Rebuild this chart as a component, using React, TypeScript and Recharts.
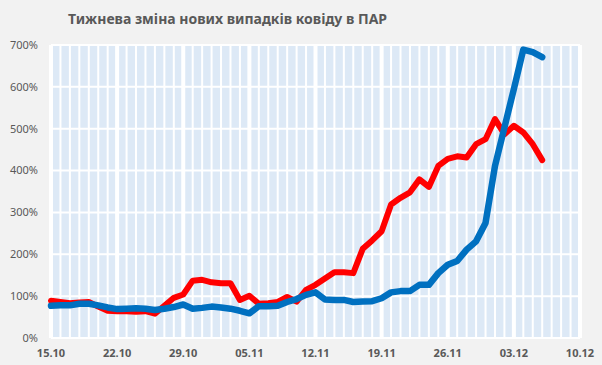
import {
  LineChart,
  Line,
  XAxis,
  YAxis,
  CartesianGrid,
  ReferenceLine,
} from 'recharts'

const dates = [
  '15.10', '16.10', '17.10', '18.10', '19.10', '20.10', '21.10',
  '22.10', '23.10', '24.10', '25.10', '26.10', '27.10', '28.10',
  '29.10', '30.10', '31.10', '01.11', '02.11', '03.11', '04.11',
  '05.11', '06.11', '07.11', '08.11', '09.11', '10.11', '11.11',
  '12.11', '13.11', '14.11', '15.11', '16.11', '17.11', '18.11',
  '19.11', '20.11', '21.11', '22.11', '23.11', '24.11', '25.11',
  '26.11', '27.11', '28.11', '29.11', '30.11', '01.12', '02.12',
  '03.12', '04.12', '05.12', '06.12', '07.12', '08.12', '09.12',
  '10.12',
]

// weekly change, %
const redSeries = [
  89, 86, 83, 85, 86, 75, 65, 64, 64, 63, 64, 58, 77, 96, 104,
  137, 139, 133, 131, 131, 91, 101, 82, 83, 86, 98, 87, 115, 127,
  142, 157, 157, 155, 213, 233, 255, 319, 335, 348, 379, 361, 411,
  428, 434, 431, 463, 475, 523, 487, 507, 491, 463, 425,
]

const blueSeries = [
  77, 78, 78, 82, 82, 78, 73, 69, 70, 71, 70, 67, 70, 74, 80,
  70, 72, 75, 73, 70, 65, 59, 76, 76, 77, 86, 93, 103, 109,
  92, 91, 91, 86, 87, 88, 95, 109, 112, 112, 127, 127, 155,
  175, 184, 211, 231, 275, 411, 503, 595, 689, 683, 671,
]

const yTicks = [0, 100, 200, 300, 400, 500, 600, 700]

const chartData = dates.map((date, i) => ({
  date,
  red: redSeries[i] ?? null,
  blue: blueSeries[i] ?? null,
}))

const textColor = '#595959'
const font = '"Noto Sans", sans-serif'

export default function App() {
  return (
    <div
      style={{
        position: 'absolute',
        left: 0,
        top: 0,
        width: 602,
        height: 365,
        background: '#f2f2f2',
        fontFamily: font,
      }}
    >
      <div
        style={{
          position: 'absolute',
          left: 68,
          top: 9,
          fontSize: 14,
          fontWeight: 700,
          color: textColor,
          whiteSpace: 'nowrap',
        }}
      >
        Тижнева зміна нових випадків ковіду в ПАР
      </div>
      <LineChart
        width={602}
        height={365}
        data={chartData}
        margin={{ top: 45, right: 22, left: 0, bottom: 0 }}
      >
        <CartesianGrid
          vertical={false}
          stroke="#ffffff"
          strokeWidth={2}
          fill="#dde9f6"
          fillOpacity={1}
        />
        {dates.map((d, i) => (
          <ReferenceLine
            key={d}
            x={d}
            stroke="#ffffff"
            strokeWidth={i % 7 === 0 ? 4 : 2}
          />
        ))}
        <ReferenceLine y={0} stroke="#ffffff" strokeWidth={2} />
        <ReferenceLine y={700} stroke="#ffffff" strokeWidth={2} />
        <XAxis
          dataKey="date"
          interval={6}
          height={27}
          axisLine={false}
          tickLine={false}
          tickSize={6}
          tickMargin={5}
          tick={{ fill: textColor, fontSize: 11, fontWeight: 700, fontFamily: font }}
        />
        <YAxis
          domain={[0, 700]}
          ticks={yTicks}
          tickFormatter={(v) => `${v}%`}
          axisLine={false}
          tickLine={false}
          tickSize={6}
          tickMargin={7}
          width={51}
          tick={{ fill: textColor, fontSize: 11, fontFamily: font }}
        />
        <Line
          dataKey="red"
          stroke="#ff0000"
          strokeWidth={6}
          dot={false}
          strokeLinejoin="round"
          strokeLinecap="round"
          isAnimationActive={false}
        />
        <Line
          dataKey="blue"
          stroke="#0070c0"
          strokeWidth={6.5}
          dot={false}
          strokeLinejoin="round"
          strokeLinecap="round"
          isAnimationActive={false}
        />
      </LineChart>
    </div>
  )
}
